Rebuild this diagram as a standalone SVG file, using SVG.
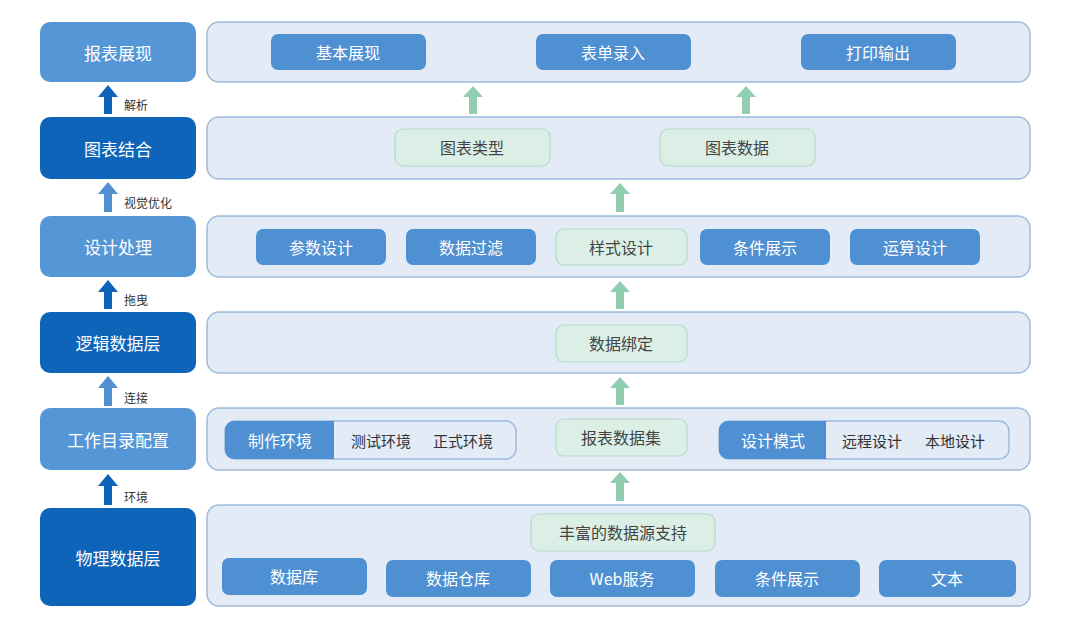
<svg xmlns="http://www.w3.org/2000/svg" width="1080" height="639" viewBox="0 0 1080 639">
<style>
text{font-family:"Noto Sans CJK SC","Noto Sans",sans-serif;text-anchor:middle;dominant-baseline:central}
.l{fill:#5596d6}.d{fill:#0d64b9}
.lt{fill:#fff;font-size:17px}
.p{fill:#e2ebf6;stroke:#9ebcdc;stroke-width:1.5}
.b{fill:#4f90d3}
.bt{fill:#fff;font-size:16px}
.g{fill:#dbefe6;stroke:#b6dac8;stroke-width:1.2}
.gt{fill:#444;font-size:16px}
.al{fill:#4f90d3}.ad{fill:#0d64b9}.ag{fill:#90cdb1}
.s{fill:#333;font-size:12px;text-anchor:start}
.wt{fill:#333;font-size:15px}
</style>
<rect width="1080" height="639" fill="#fff"/>
<g id="left">
<g id="n1"><rect class="l" x="40" y="22" width="156" height="60" rx="10"/><text class="lt" x="118" y="52">报表展现</text></g>
<g id="n2"><rect class="d" x="40" y="117" width="156" height="62" rx="10"/><text class="lt" x="118" y="148">图表结合</text></g>
<g id="n3"><rect class="l" x="40" y="216" width="156" height="61" rx="10"/><text class="lt" x="118" y="246">设计处理</text></g>
<g id="n4"><rect class="d" x="40" y="312" width="156" height="61" rx="10"/><text class="lt" x="118" y="342">逻辑数据层</text></g>
<g id="n5"><rect class="l" x="40" y="408" width="156" height="62" rx="10"/><text class="lt" x="118" y="439">工作目录配置</text></g>
<g id="n6"><rect class="d" x="40" y="508" width="156" height="98" rx="10"/><text class="lt" x="118" y="557">物理数据层</text></g>
</g>
<g id="panels">
<rect class="p" x="207" y="22" width="823" height="60" rx="12"/>
<rect class="p" x="207" y="117" width="823" height="62" rx="12"/>
<rect class="p" x="207" y="216" width="823" height="61" rx="12"/>
<rect class="p" x="207" y="312" width="823" height="61" rx="12"/>
<rect class="p" x="207" y="408" width="823" height="62" rx="12"/>
<rect class="p" x="207" y="505" width="823" height="101" rx="12"/>
</g>
<g id="items">
<rect class="b" x="271" y="34" width="155" height="36" rx="7"/><text class="bt" x="348" y="52">基本展现</text>
<rect class="b" x="536" y="34" width="155" height="36" rx="7"/><text class="bt" x="613" y="52">表单录入</text>
<rect class="b" x="801" y="34" width="155" height="36" rx="7"/><text class="bt" x="878" y="52">打印输出</text>
<rect class="g" x="395" y="129" width="155" height="37" rx="8"/><text class="gt" x="472" y="147">图表类型</text>
<rect class="g" x="660" y="129" width="155" height="37" rx="8"/><text class="gt" x="737" y="147">图表数据</text>
<rect class="b" x="256" y="229" width="130" height="36" rx="7"/><text class="bt" x="321" y="247">参数设计</text>
<rect class="b" x="406" y="229" width="130" height="36" rx="7"/><text class="bt" x="471" y="247">数据过滤</text>
<rect class="g" x="556" y="229" width="131" height="36" rx="8"/><text class="gt" x="621" y="247">样式设计</text>
<rect class="b" x="700" y="229" width="130" height="36" rx="7"/><text class="bt" x="765" y="247">条件展示</text>
<rect class="b" x="850" y="229" width="130" height="36" rx="7"/><text class="bt" x="915" y="247">运算设计</text>
<rect class="g" x="556" y="325" width="131" height="37" rx="8"/><text class="gt" x="621" y="343">数据绑定</text>
<rect fill="#e2ebf6" stroke="#9ebcdc" stroke-width="1.5" x="225" y="421" width="291" height="38" rx="10"/>
<path class="b" d="M234 421h100v38h-100a9 9 0 0 1-9-9v-20a9 9 0 0 1 9-9z"/>
<text class="bt" x="280" y="440">制作环境</text>
<text class="wt" x="381" y="440">测试环境</text><text class="wt" x="463" y="440">正式环境</text>
<rect class="g" x="556" y="419" width="131" height="37" rx="8"/><text class="gt" x="621" y="437">报表数据集</text>
<rect fill="#e2ebf6" stroke="#9ebcdc" stroke-width="1.5" x="719" y="421" width="290" height="38" rx="10"/>
<path class="b" d="M728 421h98v38h-98a9 9 0 0 1-9-9v-20a9 9 0 0 1 9-9z"/>
<text class="bt" x="773" y="440">设计模式</text>
<text class="wt" x="872" y="440">远程设计</text><text class="wt" x="955" y="440">本地设计</text>
<rect class="g" x="531" y="514" width="184" height="37" rx="8"/><text class="gt" x="623" y="532">丰富的数据源支持</text>
<rect class="b" x="222" y="558" width="145" height="37" rx="7"/><text class="bt" x="294" y="576">数据库</text>
<rect class="b" x="386" y="560" width="145" height="37" rx="7"/><text class="bt" x="458" y="578">数据仓库</text>
<rect class="b" x="550" y="560" width="145" height="37" rx="7"/><text class="bt" x="622" y="578">Web服务</text>
<rect class="b" x="715" y="560" width="145" height="37" rx="7"/><text class="bt" x="787" y="578">条件展示</text>
<rect class="b" x="879" y="560" width="137" height="37" rx="7"/><text class="bt" x="947" y="578">文本</text>
</g>
<g id="connectors">
<path class="ad" d="M108 85l-10 12h6v17h8v-17h6z"/><text class="s" x="124" y="104">解析</text>
<path class="al" d="M108 182l-10 12h6v18h8v-18h6z"/><text class="s" x="124" y="202">视觉优化</text>
<path class="ad" d="M108 280l-10 12h6v17h8v-17h6z"/><text class="s" x="124" y="299">拖曳</text>
<path class="al" d="M108 376l-10 12h6v18h8v-18h6z"/><text class="s" x="124" y="397">连接</text>
<path class="ad" d="M108 474l-10 12h6v19h8v-19h6z"/><text class="s" x="124" y="496">环境</text>
<path class="ag" d="M473 86l-10 11h6v17h8v-17h6z"/>
<path class="ag" d="M746 86l-10 11h6v17h8v-17h6z"/>
<path class="ag" d="M620 183l-10 11h6v18h8v-18h6z"/>
<path class="ag" d="M620 281l-10 11h6v17h8v-17h6z"/>
<path class="ag" d="M620 377l-10 11h6v17h8v-17h6z"/>
<path class="ag" d="M620 472l-10 11h6v18h8v-18h6z"/>
</g>
</svg>
